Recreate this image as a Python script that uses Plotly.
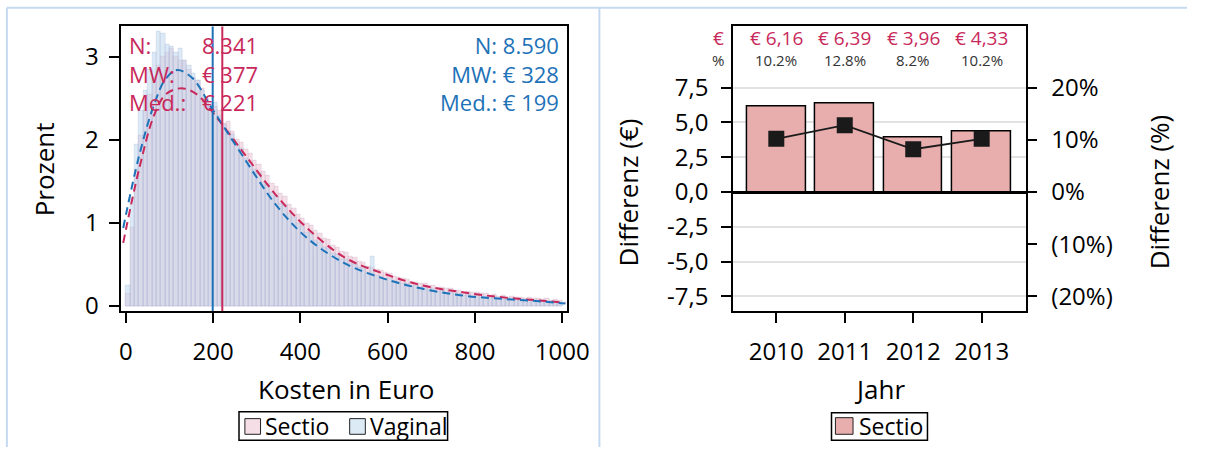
import plotly.graph_objects as go

W, H = 1210, 457
FONT = "Open Sans"
RED = "#C8285A"
BLUE = "#1E72B8"

# ---------------- data: cost histogram (percent per 10-euro bin) ----------------
bin_width = 10
bin_starts = list(range(0, 1000, bin_width))

sectio_pct = [
    0.15, 0.95, 1.65, 2.05, 2.35, 2.55, 2.75, 2.9, 3.0, 3.05,
    3.1, 3.0, 2.95, 2.95, 2.85, 2.75, 2.72, 2.62, 2.5, 2.45,
    2.4, 2.35, 2.2, 2.22, 2.1, 2.0, 1.97, 1.88, 1.84, 1.75,
    1.7, 1.62, 1.57, 1.48, 1.44, 1.36, 1.32, 1.22, 1.18, 1.1,
    1.06, 1.0, 0.97, 0.91, 0.88, 0.82, 0.8, 0.73, 0.71, 0.66,
    0.64, 0.6, 0.58, 0.54, 0.52, 0.48, 0.47, 0.44, 0.43, 0.4,
    0.39, 0.36, 0.35, 0.33, 0.32, 0.3, 0.29, 0.27, 0.27, 0.25,
    0.25, 0.23, 0.23, 0.21, 0.21, 0.19, 0.19, 0.17, 0.18, 0.16,
    0.16, 0.15, 0.15, 0.13, 0.14, 0.12, 0.13, 0.11, 0.12, 0.1,
    0.11, 0.09, 0.1, 0.09, 0.09, 0.08, 0.09, 0.07, 0.08, 0.07,
]
vaginal_pct = [
    0.25, 1.3, 1.95, 2.35, 2.6, 2.85, 3.05, 3.3, 3.28, 3.15,
    3.12, 3.05, 3.1, 2.95, 2.9, 2.8, 2.72, 2.6, 2.5, 2.4,
    2.45, 2.3, 2.18, 2.1, 2.06, 1.93, 1.9, 1.78, 1.73, 1.64,
    1.6, 1.49, 1.46, 1.37, 1.32, 1.24, 1.21, 1.11, 1.07, 0.99,
    0.96, 0.89, 0.87, 0.79, 0.77, 0.71, 0.69, 0.63, 0.62, 0.56,
    0.56, 0.51, 0.5, 0.46, 0.45, 0.41, 0.6, 0.37, 0.36, 0.33,
    0.33, 0.3, 0.3, 0.27, 0.27, 0.24, 0.25, 0.22, 0.22, 0.2,
    0.21, 0.18, 0.19, 0.16, 0.17, 0.15, 0.15, 0.13, 0.14, 0.12,
    0.13, 0.11, 0.12, 0.1, 0.1, 0.09, 0.1, 0.08, 0.09, 0.07,
    0.08, 0.07, 0.07, 0.06, 0.07, 0.05, 0.06, 0.05, 0.05, 0.04,
]

# smoothed density curves (percent) for both groups
curve_x = [-6, 30, 65, 92, 127, 162, 214, 276, 345, 415, 503, 591, 678, 766, 853, 941, 1007]
sectio_curve = [0.76, 1.64, 2.3, 2.55, 2.62, 2.55, 2.23, 1.8, 1.33, 0.94, 0.58, 0.39, 0.25, 0.17, 0.11, 0.07, 0.04]
blue_x = [-6, 30, 65, 92, 118, 153, 196, 276, 345, 415, 503, 591, 678, 766, 853, 941, 1007]
vaginal_curve = [0.94, 1.8, 2.43, 2.74, 2.84, 2.74, 2.39, 1.74, 1.21, 0.82, 0.51, 0.33, 0.21, 0.13, 0.09, 0.06, 0.03]

sectio_labels = ["N:", "MW:", "Med.:"]
sectio_values = ["8.341", "€ 377", "€ 221"]
vaginal_stats = ["N: 8.590", "MW: € 328", "Med.: € 199"]
sectio_median = 221
vaginal_median = 199

# ---------------- data: yearly difference ----------------
years = [2010, 2011, 2012, 2013]
diff_eur = [6.16, 6.39, 3.96, 4.33]
diff_pct = [10.2, 12.8, 8.2, 10.2]
eur_ticks = [-7.5, -5.0, -2.5, 0.0, 2.5, 5.0, 7.5]
pct_ticks = [-20, -10, 0, 10, 20]


def px(x):
    return x / W


def py(y):
    return 1 - y / H


def de_num(v, digits):
    return f"{v:.{digits}f}".replace(".", ",")


def pct_label(v):
    return f"({abs(v)}%)" if v < 0 else f"{v}%"


fig = go.Figure()

centers = [s + bin_width / 2 for s in bin_starts]
fig.add_trace(go.Bar(
    x=centers, y=sectio_pct, width=bin_width, name="Sectio",
    marker=dict(color="rgba(237,189,205,0.5)", line=dict(color="rgba(170,150,190,0.35)", width=0.6)),
    xaxis="x", yaxis="y", showlegend=False,
))
fig.add_trace(go.Bar(
    x=centers, y=vaginal_pct, width=bin_width, name="Vaginal",
    marker=dict(color="rgba(185,213,237,0.5)", line=dict(color="rgba(150,160,200,0.35)", width=0.6)),
    xaxis="x", yaxis="y", showlegend=False,
))
fig.add_trace(go.Scatter(
    x=curve_x, y=sectio_curve, mode="lines", line=dict(color=RED, width=2, dash="8px,5px", shape="spline"),
    xaxis="x", yaxis="y", showlegend=False, hoverinfo="skip",
))
fig.add_trace(go.Scatter(
    x=blue_x, y=vaginal_curve, mode="lines", line=dict(color=BLUE, width=2, dash="8px,5px", shape="spline"),
    xaxis="x", yaxis="y", showlegend=False, hoverinfo="skip",
))

fig.add_trace(go.Bar(
    x=years, y=diff_eur, width=0.86, name="Sectio",
    marker=dict(color="rgb(232,174,174)", line=dict(color="black", width=1.5)),
    xaxis="x2", yaxis="y2", showlegend=False,
))
fig.add_trace(go.Scatter(
    x=years, y=diff_pct, mode="lines+markers",
    line=dict(color="#1a1a1a", width=1.8),
    marker=dict(symbol="square", size=16, color="#1a1a1a"),
    xaxis="x2", yaxis="y3", showlegend=False,
))

tickfont = dict(family=FONT, size=24, color="black")
common_axis = dict(showline=True, linecolor="black", linewidth=2, mirror=True,
                   ticks="outside", ticklen=10, tickwidth=2, tickcolor="black",
                   tickfont=tickfont, showgrid=False, zeroline=False)

fig.update_layout(
    width=W, height=H, margin=dict(l=0, r=0, t=0, b=0),
    paper_bgcolor="white", plot_bgcolor="white",
    barmode="overlay", bargap=0,
    font=dict(family=FONT, color="black"),
    xaxis=dict(domain=[px(122), px(577)], range=[-10, 1011],
               tickvals=[0, 200, 400, 600, 800, 1000], ticklabelstandoff=8,
               anchor="y", **common_axis),
    yaxis=dict(domain=[py(318), py(27)], range=[-0.06, 3.365],
               tickvals=[0, 1, 2, 3], ticklabelstandoff=6,
               anchor="x", **common_axis),
    xaxis2=dict(domain=[px(746.6), px(1045.1)], range=[2009.37, 2013.64],
                tickvals=years, ticklabelstandoff=8,
                anchor="y2", **common_axis),
    yaxis2=dict(domain=[py(318), py(27)], range=[-8.55, 11.9],
                tickvals=eur_ticks, ticktext=[de_num(v, 1) for v in eur_ticks],
                ticklabelstandoff=8, anchor="x2",
                **{**common_axis, "showgrid": True, "gridcolor": "#e2e2e2", "gridwidth": 2,
                   "zeroline": True, "zerolinecolor": "black", "zerolinewidth": 3}),
    yaxis3=dict(domain=[py(318), py(27)], range=[-8.55 * 8 / 3, 11.9 * 8 / 3],
                overlaying="y2", side="right", anchor="x2",
                tickvals=pct_ticks, ticktext=[pct_label(v) for v in pct_ticks],
                ticks="outside", ticklen=10, tickwidth=2, tickcolor="black",
                tickfont=tickfont, ticklabelstandoff=10,
                showline=False, showgrid=False, zeroline=False),
)

shapes = []
# median reference lines
for xv, col in [(vaginal_median, BLUE), (sectio_median, RED)]:
    shapes.append(dict(type="line", xref="x", yref="y domain", x0=xv, x1=xv, y0=0, y1=1,
                       line=dict(color=col, width=2)))

# panel borders
border = "rgb(197,217,241)"
shapes += [
    dict(type="line", xref="paper", yref="paper", x0=px(5), x1=1, y0=py(8), y1=py(8), line=dict(color=border, width=2)),
    dict(type="line", xref="paper", yref="paper", x0=px(5), x1=px(5), y0=0, y1=py(8), line=dict(color=border, width=2)),
    dict(type="line", xref="paper", yref="paper", x0=px(610), x1=px(610), y0=0, y1=py(8), line=dict(color=border, width=2)),
]

# legend boxes
def legend_box(x0, x1, y0, y1):
    return dict(type="rect", xref="paper", yref="paper", x0=px(x0), x1=px(x1), y0=py(y1), y1=py(y0),
                line=dict(color="black", width=1.5), fillcolor="white")


def swatch(x0, x1, y0, y1, fill):
    return dict(type="rect", xref="paper", yref="paper", x0=px(x0), x1=px(x1), y0=py(y1), y1=py(y0),
                line=dict(color="#222", width=1), fillcolor=fill)


shapes += [
    legend_box(242, 455, 421, 450),
    swatch(248, 264, 428, 444, "rgb(246,222,230)"),
    swatch(355, 371, 428, 444, "rgb(220,234,246)"),
    legend_box(847, 945, 422, 450),
    swatch(851, 869, 427, 444, "rgb(232,174,174)"),
]
fig.update_layout(shapes=shapes)

ann = []


def text(x, y, s, size, color="black", xanchor="center", angle=0, xref="paper", align="center"):
    ann.append(dict(x=x if xref != "paper" else px(x), y=py(y), xref=xref, yref="paper", text=s,
                    showarrow=False, xanchor=xanchor, yanchor="middle", textangle=angle, align=align,
                    font=dict(family=FONT, size=size, color=color)))


# axis titles
text(43, 173, "Prozent", 26, angle=-90)
text(351, 398, "Kosten in Euro", 26)
text(639, 197, "Differenz (€)", 26, angle=-90)
text(1181, 197, "Differenz (%)", 26, angle=-90)
text(896, 398, "Jahr", 26)

# group statistics (one block per column)
text(128, 75, "<br>".join(sectio_labels), 22, RED, xanchor="left", align="left")
text(263, 75, "<br>".join(sectio_values), 22, RED, xanchor="right", align="right")
text(571, 75, "<br>".join(vaginal_stats), 22, BLUE, xanchor="right", align="right")

# yearly difference labels
text(739, 39, "€", 19, RED, xanchor="right")
text(739, 61, "%", 15, "#333", xanchor="right")
for yr, e, p in zip(years, diff_eur, diff_pct):
    text(yr, 39, f"€ {de_num(e, 2)}", 19, RED, xref="x2")
    text(yr, 61, f"{p}%", 15, "#333", xref="x2")

# legend labels
text(267, 436, "Sectio", 23, xanchor="left")
text(374, 436, "Vaginal", 23, xanchor="left")
text(873, 436, "Sectio", 23, xanchor="left")

fig.update_layout(annotations=ann)
fig.write_html("out.html")
